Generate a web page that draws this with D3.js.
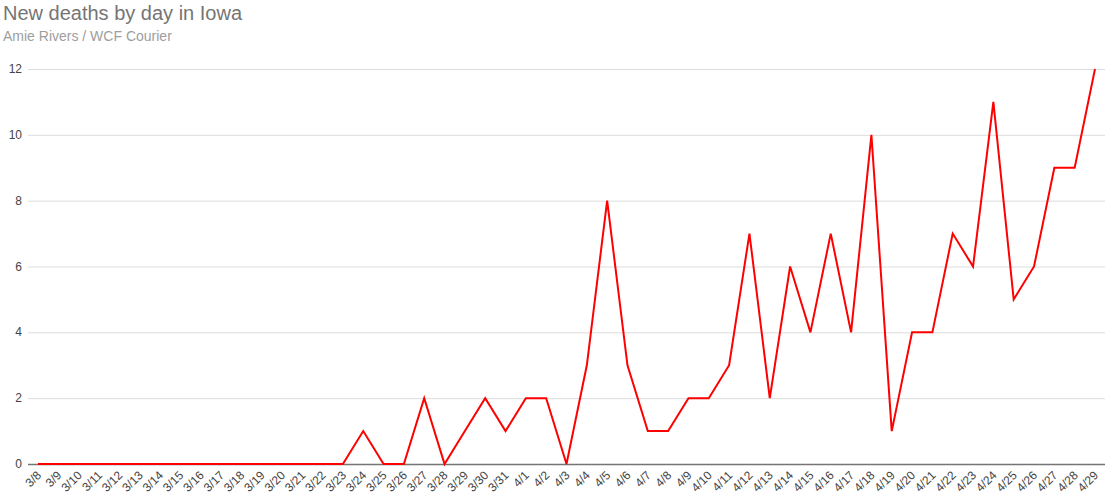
<!DOCTYPE html>
<html><head><meta charset="utf-8">
<script src="https://cdn.jsdelivr.net/npm/d3@7"></script>
<style>body{margin:0;background:#fff;font-family:Arial,"Liberation Sans",sans-serif}</style>
</head><body><svg id="c" width="1106" height="500"></svg>
<script>
const dates = ["3/8","3/9","3/10","3/11","3/12","3/13","3/14","3/15","3/16","3/17","3/18","3/19","3/20","3/21","3/22","3/23","3/24","3/25","3/26","3/27","3/28","3/29","3/30","3/31","4/1","4/2","4/3","4/4","4/5","4/6","4/7","4/8","4/9","4/10","4/11","4/12","4/13","4/14","4/15","4/16","4/17","4/18","4/19","4/20","4/21","4/22","4/23","4/24","4/25","4/26","4/27","4/28","4/29"];
const deaths = [0,0,0,0,0,0,0,0,0,0,0,0,0,0,0,0,1,0,0,2,0,1,2,1,2,2,0,3,8,3,1,1,2,2,3,7,2,6,4,7,4,10,1,4,4,7,6,11,5,6,9,9,12];
const yTicks = [0,2,4,6,8,10,12];
const title = "New deaths by day in Iowa";
const subtitle = "Amie Rivers / WCF Courier";

const svg = d3.select("#c");
const gridX0 = 28, gridX1 = 1105;
const x = d3.scalePoint().domain(dates).range([38, 1095]);
const y = d3.scaleLinear().domain([0,12]).range([464, 69]);

svg.append("text").attr("x",3).attr("y",20).attr("font-size",20).attr("fill","#757575").text(title);
svg.append("text").attr("x",3).attr("y",41).attr("font-size",14).attr("fill","#9e9e9e").text(subtitle);

const yg = svg.append("g");
yg.selectAll("line").data(yTicks).join("line")
  .attr("x1",gridX0).attr("x2",gridX1)
  .attr("y1",d=>y(d)+0.5).attr("y2",d=>y(d)+0.5)
  .attr("stroke",d=>d===0?"#757575":"#dcdcdc").attr("stroke-width",d=>d===0?1.5:1);
yg.selectAll("text").data(yTicks).join("text")
  .attr("x",22).attr("y",d=>y(d)+4).attr("text-anchor","end")
  .attr("font-size",12).attr("fill","#444").text(d=>d);

const xg = svg.append("g");
xg.selectAll("text").data(dates).join("text")
  .attr("transform",d=>`translate(${x(d)+4},${476}) rotate(-45)`)
  .attr("text-anchor","end").attr("font-size",12).attr("fill","#444").text(d=>d);

const line = d3.line().x((d,i)=>x(dates[i])).y(d=>y(d));
svg.append("path").datum(deaths).attr("d",line)
  .attr("fill","none").attr("stroke","#ff0000").attr("stroke-width",2).attr("stroke-linejoin","miter");
</script></body></html>
